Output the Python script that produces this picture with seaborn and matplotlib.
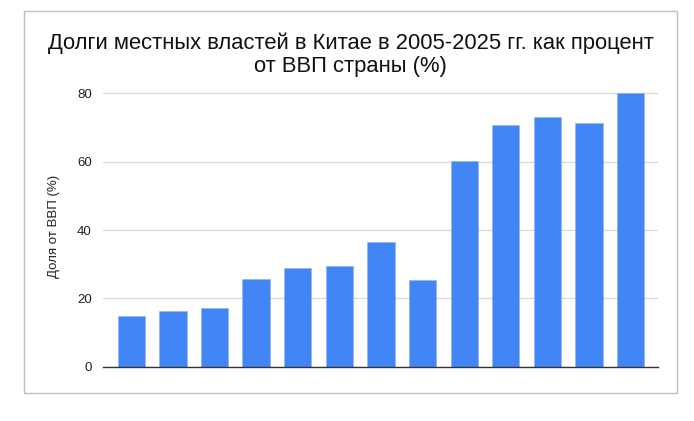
import numpy as np
import pandas as pd
import matplotlib
matplotlib.use("Agg")
import matplotlib.pyplot as plt
import seaborn as sns
from matplotlib.patches import Rectangle

# Bars in the reference carry no x labels; one entry per bar
periods = ["p1", "p2", "p3", "p4", "p5", "p6", "p7",
           "p8", "p9", "p10", "p11", "p12", "p13"]
debt_share = [14.9, 16.2, 17.1, 25.7, 28.9, 29.6, 36.5,
              25.4, 60.1, 70.6, 73.2, 71.2, 80.1]
y_ticks = [0, 20, 40, 60, 80]

TITLE = "Долги местных властей в Китае в 2005-2025 гг. как процент\nот ВВП страны (%)"
Y_LABEL = "Доля от ВВП (%)"
BAR_COLOR = "#4285F4"

df = pd.DataFrame({"period": periods, "share": debt_share})

sns.set_theme(style="white")
plt.rcParams["font.family"] = ["Liberation Sans", "DejaVu Sans"]

fig = plt.figure(figsize=(6.94, 4.21), dpi=100)
ax = fig.add_axes([0.1484, 0.129, 0.7993, 0.6655])

sns.barplot(data=df, x="period", y="share", color=BAR_COLOR,
            width=0.656, saturation=1, edgecolor="#8ab4f8", linewidth=0.4, ax=ax)

ax.set_xlim(-0.68, 12.65)
ax.set_ylim(0, 82)
ax.set_yticks(y_ticks)
ax.set_yticklabels([str(v) for v in y_ticks], fontsize=9.5, color="#222222")
ax.set_xticks([])
ax.set_xlabel("")
ax.set_ylabel(Y_LABEL, fontsize=9.5, color="#222222", labelpad=12)
ax.tick_params(axis="y", length=0, pad=8)
ax.grid(axis="y", color="#d9d9d9", linewidth=0.9)
ax.set_axisbelow(True)
for side in ["top", "right", "left"]:
    ax.spines[side].set_visible(False)
ax.spines["bottom"].set_color("#333333")
ax.spines["bottom"].set_linewidth(1.0)

fig.text(0.505, 0.87, TITLE, ha="center", va="center", fontsize=15.8,
         color="#111111", linespacing=1.1)

# thin grey frame around the whole chart
fig.patches.append(Rectangle((24 / 694, 1 - 393 / 421), (677 - 24) / 694, (393 - 11) / 421,
                             transform=fig.transFigure, fill=False,
                             edgecolor="#c0c0c0", linewidth=1.0))

fig.savefig("out.png", dpi=100, facecolor="white")
